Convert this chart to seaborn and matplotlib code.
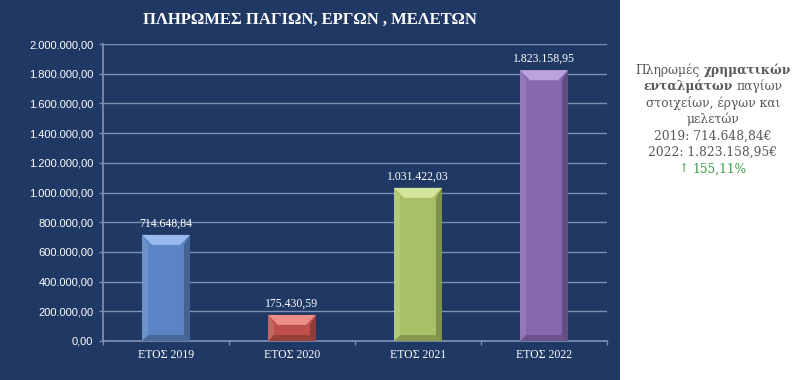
import matplotlib
matplotlib.use("Agg")
import matplotlib.pyplot as plt
import seaborn as sns
import pandas as pd
from matplotlib.patches import Polygon, Rectangle
from matplotlib.ticker import FuncFormatter

years = ["ΕΤΟΣ 2019", "ΕΤΟΣ 2020", "ΕΤΟΣ 2021", "ΕΤΟΣ 2022"]
payments = [714648.84, 175430.59, 1031422.03, 1823158.95]
bar_colors = ["#5a84c4", "#bf504c", "#a9c166", "#8767ad"]
top_colors = ["#9ab9ec", "#ec8f89", "#d6e59c", "#bba3dd"]
y_ticks = list(range(0, 2000001, 200000))

navy = "#1f3864"
grid_col = "#7f8fb0"
serif = ["Liberation Serif", "DejaVu Serif"]


def gr(v):
    s = f"{v:,.2f}"
    return s.replace(",", "X").replace(".", ",").replace("X", ".")


df = pd.DataFrame({"year": years, "value": payments})

sns.set_theme(style="white")
fig = plt.figure(figsize=(8, 3.8), dpi=100)
fig.patch.set_facecolor("white")
fig.patches.append(Rectangle((0, 0), 620 / 800, 1, transform=fig.transFigure,
                             facecolor=navy, edgecolor="none", zorder=-10))

ax = fig.add_axes([103 / 800, 1 - 341 / 380, 504 / 800, 297 / 380])
ax.set_facecolor("none")
sns.barplot(data=df, x="year", y="value", hue="year", palette=bar_colors,
            saturation=1, width=0.38, legend=False, ax=ax, zorder=3)

ax.set_ylim(0, 2000000)
ax.set_xlim(-0.5, 3.5)
ax.set_yticks(y_ticks)
ax.yaxis.set_major_formatter(FuncFormatter(lambda v, p: gr(v)))
ax.grid(axis="y", color=grid_col, linewidth=1, zorder=0)
ax.set_axisbelow(True)
for s in ["top", "right"]:
    ax.spines[s].set_visible(False)
ax.spines["left"].set_color(grid_col)
ax.spines["bottom"].set_color(grid_col)
ax.tick_params(axis="y", colors=grid_col, length=3, width=1, labelcolor="white",
               labelsize=8, pad=4, left=True)
ax.tick_params(axis="x", length=0, labelcolor="white", pad=6)
ax.set_xticks([-0.5, 0.5, 1.5, 2.5, 3.5], minor=True)
ax.tick_params(axis="x", which="minor", length=3, color=grid_col, bottom=True)
for lab in ax.get_yticklabels():
    lab.set_family(["Liberation Sans Narrow", "Liberation Sans", "DejaVu Sans"])
for lab in ax.get_xticklabels():
    lab.set_family(serif)
    lab.set_fontsize(8.5)
ax.set_xlabel("")
ax.set_ylabel("")

# bevel look on each bar
fig.canvas.draw()
px_x = ax.transData.transform((1, 0))[0] - ax.transData.transform((0, 0))[0]
px_y = ax.transData.transform((0, 1e6))[1] - ax.transData.transform((0, 0))[1]
bx = 10 / px_x
by = 10 / px_y * 1e6
for i, p in enumerate(ax.patches[:len(payments)]):
    x0, w, h = p.get_x(), p.get_width(), p.get_height()
    x1 = x0 + w
    p.set_edgecolor("none")
    ax.add_patch(Polygon([(x0, h), (x1, h), (x1 - bx, h - by), (x0 + bx, h - by)],
                         closed=True, facecolor=top_colors[i], edgecolor="none", zorder=4))
    ax.add_patch(Polygon([(x1, h), (x1, 0), (x1 - bx * 0.6, by * 0.6), (x1 - bx * 0.6, h - by)],
                         closed=True, facecolor="black", alpha=0.25, edgecolor="none", zorder=4))
    ax.add_patch(Polygon([(x0, 0), (x1, 0), (x1 - bx * 0.6, by * 0.6), (x0 + bx * 0.6, by * 0.6)],
                         closed=True, facecolor="black", alpha=0.2, edgecolor="none", zorder=4))
    ax.add_patch(Polygon([(x0, h), (x0, 0), (x0 + bx * 0.6, by * 0.6), (x0 + bx * 0.6, h - by)],
                         closed=True, facecolor="white", alpha=0.12, edgecolor="none", zorder=4))
    ax.text(p.get_x() + w / 2, h, gr(payments[i]), ha="center", va="bottom",
            color="white", fontsize=8.5, family=serif,
            transform=ax.transData + matplotlib.transforms.ScaledTranslation(0, 4 / 72, fig.dpi_scale_trans),
            zorder=5)

fig.text(310 / 800, 1 - 20 / 380, "ΠΛΗΡΩΜΕΣ ΠΑΓΙΩΝ, ΕΡΓΩΝ , ΜΕΛΕΤΩΝ", ha="center", va="center",
         color="white", fontsize=12, fontweight="bold", family=serif)

# side note
v19, v22 = payments[0], payments[-1]
change = (v22 / v19 - 1) * 100
gray = "#595959"
green = "#3a9e4a"
note = [
    [("Πληρωμές", "normal", gray), ("χρηματικών", "bold", gray)],
    [("ενταλμάτων", "bold", gray), ("παγίων", "normal", gray)],
    [("στοιχείων, έργων και", "normal", gray)],
    [("μελετών", "normal", gray)],
    [("2019: " + gr(v19) + "€", "normal", gray)],
    [("2022: " + gr(v22) + "€", "normal", gray)],
    [("↑", "normal", green), (f"{change:.2f}".replace(".", ",") + "%", "normal", green)],
]
cx = 713
y = 70
gap = 4
for line in note:
    texts = [fig.text(0, 1 - y / 380, t, ha="left", va="center", color=c,
                      fontweight=wt, fontsize=8.8, family=["DejaVu Serif"]) for t, wt, c in line]
    fig.canvas.draw()
    widths = [t.get_window_extent().width for t in texts]
    total = sum(widths) + gap * (len(texts) - 1)
    x = cx - total / 2
    for t, wd in zip(texts, widths):
        t.set_x(x / 800)
        x += wd + gap
    y += 16.5

fig.savefig("out.png", dpi=100, facecolor=fig.get_facecolor())
